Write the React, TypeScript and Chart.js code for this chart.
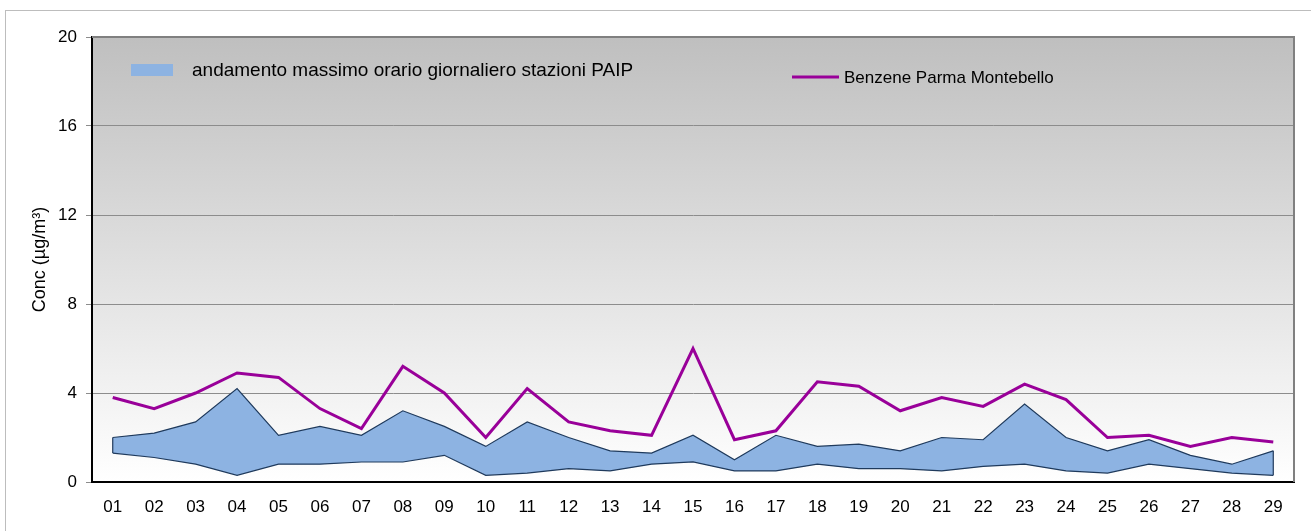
import React, { useEffect, useRef } from "react";
import { Chart, registerables } from "chart.js";

Chart.register(...registerables);

const days = ["01","02","03","04","05","06","07","08","09","10","11","12","13","14","15","16","17","18","19","20","21","22","23","24","25","26","27","28","29"];
const benzene = [3.8,3.3,4.0,4.9,4.7,3.3,2.4,5.2,4.0,2.0,4.2,2.7,2.3,2.1,6.0,1.9,2.3,4.5,4.3,3.2,3.8,3.4,4.4,3.7,2.0,2.1,1.6,2.0,1.8];
const bandMax = [2.0,2.2,2.7,4.2,2.1,2.5,2.1,3.2,2.5,1.6,2.7,2.0,1.4,1.3,2.1,1.0,2.1,1.6,1.7,1.4,2.0,1.9,3.5,2.0,1.4,1.9,1.2,0.8,1.4];
const bandMin = [1.3,1.1,0.8,0.3,0.8,0.8,0.9,0.9,1.2,0.3,0.4,0.6,0.5,0.8,0.9,0.5,0.5,0.8,0.6,0.6,0.5,0.7,0.8,0.5,0.4,0.8,0.6,0.4,0.3];
const yTicks = [0, 4, 8, 12, 16, 20];

const bandLabel = "andamento massimo orario giornaliero stazioni PAIP";
const lineLabel = "Benzene Parma Montebello";
const yTitle = "Conc (µg/m³)";

const FONT = "'Liberation Sans', Arial, sans-serif";
const BAND_FILL = "#8db3e2";
const BAND_EDGE = "#1f3a5c";
const LINE_COLOR = "#990099";

const bgPlugin = {
  id: "bgPlugin",
  beforeDraw(chart: any) {
    const { ctx, chartArea: a } = chart;
    const g = ctx.createLinearGradient(0, a.top, 0, a.bottom);
    g.addColorStop(0, "#bfbfbf");
    g.addColorStop(1, "#ffffff");
    ctx.save();
    ctx.fillStyle = g;
    ctx.fillRect(a.left, a.top, a.right - a.left, a.bottom - a.top);
    ctx.restore();
  },
};

const edgePlugin = {
  id: "edgePlugin",
  afterDatasetsDraw(chart: any) {
    const { ctx } = chart;
    const lo = chart.getDatasetMeta(1).data;
    const hi = chart.getDatasetMeta(2).data;
    ctx.save();
    ctx.strokeStyle = BAND_EDGE;
    ctx.lineWidth = 1.2;
    [0, lo.length - 1].forEach((i) => {
      ctx.beginPath();
      ctx.moveTo(lo[i].x, lo[i].y);
      ctx.lineTo(hi[i].x, hi[i].y);
      ctx.stroke();
    });
    ctx.restore();
  },
  afterDraw(chart: any) {
    const { ctx, chartArea: a } = chart;
    ctx.save();
    // top and right frame
    ctx.strokeStyle = "#808080";
    ctx.lineWidth = 2;
    ctx.beginPath();
    ctx.moveTo(a.left, a.top);
    ctx.lineTo(a.right, a.top);
    ctx.lineTo(a.right, a.bottom);
    ctx.stroke();
    // legend
    ctx.fillStyle = BAND_FILL;
    ctx.fillRect(a.left + 39, a.top + 27, 42, 12);
    ctx.fillStyle = "#000";
    ctx.textBaseline = "middle";
    ctx.font = "19px " + FONT;
    ctx.fillText(bandLabel, a.left + 100, a.top + 34);
    ctx.strokeStyle = LINE_COLOR;
    ctx.lineWidth = 3;
    ctx.beginPath();
    ctx.moveTo(a.left + 700, a.top + 40);
    ctx.lineTo(a.left + 747, a.top + 40);
    ctx.stroke();
    ctx.font = "17px " + FONT;
    ctx.fillText(lineLabel, a.left + 752, a.top + 41);
    ctx.restore();
  },
};

export default function App() {
  const ref = useRef<HTMLCanvasElement>(null);
  useEffect(() => {
    if (!ref.current) return;
    const chart = new Chart(ref.current, {
      type: "line",
      data: {
        labels: days,
        datasets: [
          {
            label: lineLabel,
            data: benzene,
            borderColor: LINE_COLOR,
            borderWidth: 3,
            pointRadius: 0,
            fill: false,
            tension: 0,
          },
          {
            label: "min",
            data: bandMin,
            borderColor: BAND_EDGE,
            borderWidth: 1.2,
            pointRadius: 0,
            fill: false,
            tension: 0,
          },
          {
            label: bandLabel,
            data: bandMax,
            borderColor: BAND_EDGE,
            borderWidth: 1.2,
            backgroundColor: BAND_FILL,
            pointRadius: 0,
            fill: 1,
            tension: 0,
          },
        ],
      },
      options: {
        animation: false,
        responsive: false,
        devicePixelRatio: 1,
        layout: { padding: { top: 37, right: 17, left: 0, bottom: 0 } },
        plugins: {
          legend: { display: false },
          tooltip: { enabled: false },
          filler: { propagate: false },
        },
        scales: {
          x: {
            offset: true,
            grid: { display: false, drawTicks: false },
            border: { display: true, color: "#000", width: 2 },
            ticks: { color: "#000", font: { family: FONT, size: 17 }, padding: 15, maxRotation: 0, autoSkip: false },
            afterFit: (s: any) => { s.height = 49; },
          },
          y: {
            min: 0,
            max: 20,
            afterBuildTicks: (s: any) => { s.ticks = yTicks.map((v) => ({ value: v })); },
            grid: { color: "#8c8c8c", lineWidth: 1, tickLength: 6, drawTicks: true },
            border: { display: true, color: "#000", width: 2 },
            ticks: { color: "#000", font: { family: FONT, size: 17 }, padding: 9 },
            title: { display: true, text: yTitle, color: "#000", font: { family: FONT, size: 18 }, padding: { top: 29, bottom: 0 } },
            afterFit: (s: any) => { s.width = 92; },
          },
        },
      },
      plugins: [bgPlugin, edgePlugin],
    });
    return () => chart.destroy();
  }, []);
  return (
    <div style={{ position: "fixed", left: 0, top: 0, width: 1311, height: 531, overflow: "hidden", background: "#fff" }}>
      <div style={{ position: "absolute", left: 5, top: 10, width: 1400, height: 600, border: "1px solid #bdbdbd" }} />
      <canvas ref={ref} width={1311} height={531} style={{ position: "absolute", left: 0, top: 0 }} />
    </div>
  );
}
